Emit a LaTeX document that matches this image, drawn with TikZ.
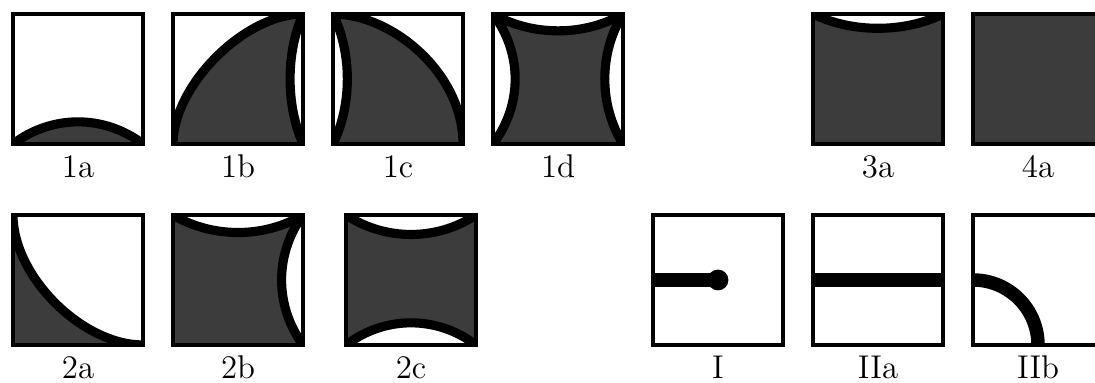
\documentclass[tikz,border=0pt]{standalone}
\usepackage{tikz}
\definecolor{wallgray}{RGB}{60,60,60}
\tikzset{
  tile/.style={draw=black,line width=1.8pt},
  wall/.style={fill=wallgray},
  seam/.style={line width=4pt},
  pipe/.style={line width=5.9pt},
  tlab/.style={font=\fontsize{14.4}{17}\selectfont,anchor=base}
}

\begin{document}
\begin{tikzpicture}
  \useasboundingbox (0,0) rectangle (16.846,5.892);
  % first row
  \begin{scope}[shift={(0.2,3.677)},scale=2]
    \begin{scope} \clip (0,0) rectangle (1,1);
      \fill[wall] (0,0) .. controls (0.3,0.227) and (0.7,0.227) .. (1,0) -- cycle;
      \draw[seam] (0,0) .. controls (0.3,0.227) and (0.7,0.227) .. (1,0);
    \end{scope}
    \draw[tile] (0,0) rectangle (1,1);
    \node[tlab] (l1a) at (0.5,-0.26) {1a};
  \end{scope}
  \begin{scope}[shift={(2.662,3.677)},scale=2]
    \begin{scope} \clip (0,0) rectangle (1,1);
      \fill[wall] (0,0) .. controls (0,0.45) and (0.55,1) .. (1,1) .. controls (0.867,0.7) and (0.867,0.3) .. (1,0) -- cycle;
      \draw[seam] (0,0) .. controls (0,0.45) and (0.55,1) .. (1,1) .. controls (0.867,0.7) and (0.867,0.3) .. (1,0);
    \end{scope}
    \draw[tile] (0,0) rectangle (1,1);
    \node[tlab] (l1b) at (0.5,-0.26) {1b};
  \end{scope}
  \begin{scope}[shift={(5.123,3.677)},scale=2]
    \begin{scope} \clip (0,0) rectangle (1,1);
      \fill[wall] (0,0) .. controls (0.147,0.3) and (0.147,0.7) .. (0,1) .. controls (0.45,1) and (1,0.55) .. (1,0) -- cycle;
      \draw[seam] (0,0) .. controls (0.147,0.3) and (0.147,0.7) .. (0,1) .. controls (0.45,1) and (1,0.55) .. (1,0);
    \end{scope}
    \draw[tile] (0,0) rectangle (1,1);
    \node[tlab] (l1c) at (0.5,-0.26) {1c};
  \end{scope}
  \begin{scope}[shift={(7.585,3.677)},scale=2]
    \begin{scope} \clip (0,0) rectangle (1,1);
      \fill[wall] (0,0) .. controls (0.227,0.3) and (0.227,0.7) .. (0,1) .. controls (0.3,0.827) and (0.7,0.827) .. (1,1) .. controls (0.813,0.7) and (0.813,0.3) .. (1,0) -- cycle;
      \draw[seam] (0,0) .. controls (0.227,0.3) and (0.227,0.7) .. (0,1) .. controls (0.3,0.827) and (0.7,0.827) .. (1,1) .. controls (0.813,0.7) and (0.813,0.3) .. (1,0);
    \end{scope}
    \draw[tile] (0,0) rectangle (1,1);
    \node[tlab] (l1d) at (0.5,-0.26) {1d};
  \end{scope}
  \begin{scope}[shift={(12.508,3.677)},scale=2]
    \begin{scope} \clip (0,0) rectangle (1,1);
      \fill[wall] (0,0) -- (1,0) -- (1,1) .. controls (0.7,0.853) and (0.3,0.853) .. (0,1) -- cycle;
      \draw[seam] (1,1) .. controls (0.7,0.853) and (0.3,0.853) .. (0,1);
    \end{scope}
    \draw[tile] (0,0) rectangle (1,1);
    \node[tlab] (l3a) at (0.5,-0.26) {3a};
  \end{scope}
  \begin{scope}[shift={(14.969,3.677)},scale=2]
    \fill[wall] (0,0) rectangle (1,1);
    \draw[tile] (0,0) rectangle (1,1);
    \node[tlab] (l4a) at (0.5,-0.26) {4a};
  \end{scope}
  % second row
  \begin{scope}[shift={(0.2,0.585)},scale=2]
    \begin{scope} \clip (0,0) rectangle (1,1);
      \fill[wall] (0,1) .. controls (0,0.53) and (0.53,0) .. (1,0) -- (0,0) -- cycle;
      \draw[seam] (0,1) .. controls (0,0.53) and (0.53,0) .. (1,0);
    \end{scope}
    \draw[tile] (0,0) rectangle (1,1);
    \node[tlab] (l2a) at (0.5,-0.26) {2a};
  \end{scope}
  \begin{scope}[shift={(2.662,0.585)},scale=2]
    \begin{scope} \clip (0,0) rectangle (1,1);
      \fill[wall] (0,0) -- (0,1) .. controls (0.3,0.82) and (0.7,0.82) .. (1,1) .. controls (0.78,0.7) and (0.78,0.3) .. (1,0) -- cycle;
      \draw[seam] (0,1) .. controls (0.3,0.82) and (0.7,0.82) .. (1,1) .. controls (0.78,0.7) and (0.78,0.3) .. (1,0);
    \end{scope}
    \draw[tile] (0,0) rectangle (1,1);
    \node[tlab] (l2b) at (0.5,-0.26) {2b};
  \end{scope}
  \begin{scope}[shift={(5.323,0.585)},scale=2]
    \begin{scope} \clip (0,0) rectangle (1,1);
      \fill[wall] (0,0) .. controls (0.3,0.227) and (0.7,0.227) .. (1,0) -- (1,1) .. controls (0.7,0.8) and (0.3,0.8) .. (0,1) -- cycle;
      \draw[seam] (0,0) .. controls (0.3,0.227) and (0.7,0.227) .. (1,0);
      \draw[seam] (1,1) .. controls (0.7,0.8) and (0.3,0.8) .. (0,1);
    \end{scope}
    \draw[tile] (0,0) rectangle (1,1);
    \node[tlab] (l2c) at (0.5,-0.26) {2c};
  \end{scope}
  \begin{scope}[shift={(10.046,0.585)},scale=2]
    \begin{scope} \clip (0,0) rectangle (1,1);
      \draw[pipe] (0,0.5) -- (0.5,0.5);
      \fill (0.5,0.5) circle (0.08);
    \end{scope}
    \draw[tile] (0,0) rectangle (1,1);
    \node[tlab] (lI) at (0.5,-0.26) {I};
  \end{scope}
  \begin{scope}[shift={(12.508,0.585)},scale=2]
    \begin{scope} \clip (0,0) rectangle (1,1);
      \draw[pipe] (0,0.5) -- (1,0.5);
    \end{scope}
    \draw[tile] (0,0) rectangle (1,1);
    \node[tlab] (lIIa) at (0.5,-0.26) {IIa};
  \end{scope}
  \begin{scope}[shift={(14.969,0.585)},scale=2]
    \begin{scope} \clip (0,0) rectangle (1,1);
      \draw[pipe] (0,0.5) arc[start angle=90,end angle=0,radius=0.5];
    \end{scope}
    \draw[tile] (0,0) rectangle (1,1);
    \node[tlab] (lIIb) at (0.5,-0.26) {IIb};
  \end{scope}
\end{tikzpicture}
\end{document}
